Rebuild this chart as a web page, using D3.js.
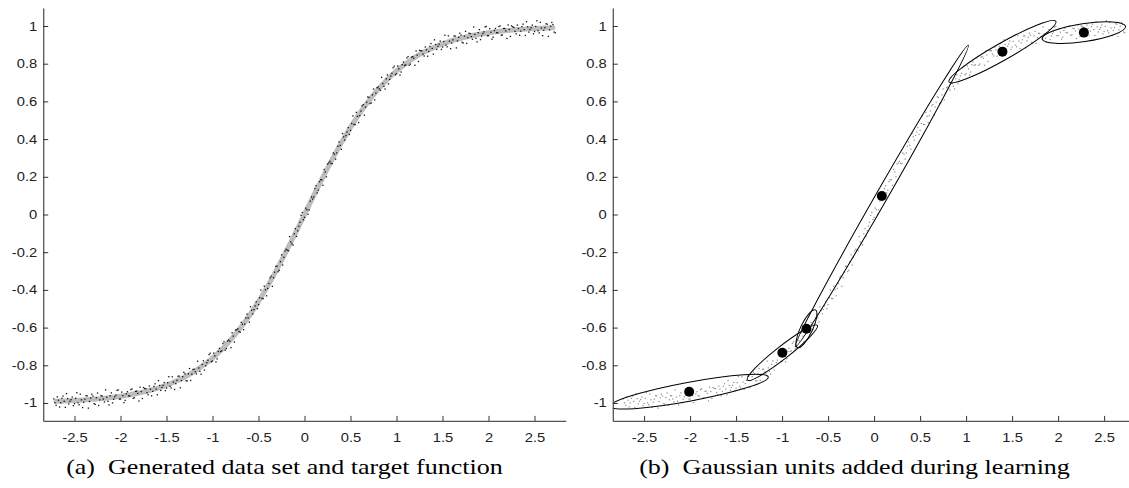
<!DOCTYPE html>
<html lang="en">
<head>
<meta charset="UTF-8">
<title>Gaussian units added during learning</title>
<script src="https://cdn.jsdelivr.net/npm/d3@7"></script>
<style>
  body { margin: 0; background: #fff; }
  .tick text { font-family: "Liberation Sans", Arial, sans-serif; font-size: 12.5px; fill: #222; transform-box: fill-box; }
  .yaxis .tick text { transform-origin: 100% 50%; transform: scaleX(1.18); }
  .xaxis .tick text { transform-origin: 50% 50%; transform: scaleX(1.18); }
  .domain { stroke: #555; stroke-width: 1.3px; }
  .tick line { stroke: #333; }
  .caption { font-family: "Liberation Serif", "Times New Roman", serif; font-size: 21px; white-space: pre; fill: #000; }
</style>
</head>
<body>
<svg id="chart" width="1129" height="488"></svg>
<script>
// tick values
const xTicks = [-2.5, -2, -1.5, -1, -0.5, 0, 0.5, 1, 1.5, 2, 2.5];
const yTicks = [-1, -0.8, -0.6, -0.4, -0.2, 0, 0.2, 0.4, 0.6, 0.8, 1];

// target function (gray line in panel a)
const targetX = [-2.7,-2.6,-2.5,-2.4,-2.3,-2.2,-2.1,-2.0,-1.9,-1.8,-1.7,-1.6,-1.5,-1.4,-1.3,-1.2,-1.1,-1.0,-0.9,-0.8,-0.7,-0.6,-0.5,-0.4,-0.3,-0.2,-0.1,
  0,0.1,0.2,0.3,0.4,0.5,0.6,0.7,0.8,0.9,1.0,1.1,1.2,1.3,1.4,1.5,1.6,1.7,1.8,1.9,2.0,2.1,2.2,2.3,2.4,2.5,2.6,2.7];
const targetY = [-0.991,-0.989,-0.987,-0.984,-0.980,-0.976,-0.971,-0.964,-0.956,-0.947,-0.935,-0.922,-0.905,-0.885,-0.862,-0.834,-0.800,-0.762,-0.716,-0.664,-0.604,-0.537,-0.462,-0.380,-0.291,-0.197,-0.100,
  0,0.100,0.197,0.291,0.380,0.462,0.537,0.604,0.664,0.716,0.762,0.800,0.834,0.862,0.885,0.905,0.922,0.935,0.947,0.956,0.964,0.971,0.976,0.980,0.984,0.987,0.989,0.991];

// generated (noisy) data set, first half
const samplesA = [
  [-2.725,-0.978],[-2.700,-1.012],[-2.675,-0.985],[-2.650,-0.999],[-2.625,-0.963],[-2.600,-1.023],[-2.575,-0.977],[-2.550,-0.991],
  [-2.525,-0.968],[-2.500,-1.003],[-2.475,-0.945],[-2.450,-1.009],[-2.425,-0.983],[-2.400,-0.996],[-2.375,-0.961],[-2.350,-1.027],
  [-2.325,-0.973],[-2.300,-0.963],[-2.275,-1.007],[-2.250,-0.947],[-2.225,-0.983],[-2.200,-0.963],[-2.175,-0.994],[-2.150,-0.969],
  [-2.125,-1.010],[-2.100,-0.946],[-2.075,-0.980],[-2.050,-0.958],[-2.025,-0.930],[-2.000,-0.979],[-1.975,-0.961],[-1.950,-0.986],
  [-1.925,-0.940],[-1.900,-0.963],[-1.875,-0.925],[-1.850,-0.972],[-1.825,-0.937],[-1.800,-0.989],[-1.775,-0.939],[-1.750,-0.918],
  [-1.725,-0.924],[-1.700,-0.956],[-1.675,-0.926],[-1.650,-0.938],[-1.625,-0.898],[-1.600,-0.956],[-1.575,-0.907],[-1.550,-0.917],
  [-1.525,-0.891],[-1.500,-0.921],[-1.475,-0.860],[-1.450,-0.920],[-1.425,-0.889],[-1.400,-0.897],[-1.375,-0.858],[-1.350,-0.919],
  [-1.325,-0.860],[-1.300,-0.845],[-1.275,-0.883],[-1.250,-0.817],[-1.225,-0.847],[-1.200,-0.821],[-1.175,-0.845],[-1.150,-0.814],
  [-1.125,-0.847],[-1.100,-0.776],[-1.075,-0.802],[-1.050,-0.773],[-1.025,-0.736],[-1.000,-0.777],[-0.975,-0.750],[-0.950,-0.766],
  [-0.925,-0.710],[-0.900,-0.723],[-0.875,-0.675],[-0.850,-0.711],[-0.825,-0.666],[-0.800,-0.706],[-0.775,-0.645],[-0.750,-0.612],
  [-0.725,-0.606],[-0.700,-0.625],[-0.675,-0.582],[-0.650,-0.581],[-0.625,-0.528],[-0.600,-0.571],[-0.575,-0.508],[-0.550,-0.504],
  [-0.525,-0.463],[-0.500,-0.478],[-0.475,-0.401],[-0.450,-0.446],[-0.425,-0.399],[-0.400,-0.392],[-0.375,-0.336],[-0.350,-0.381],
  [-0.325,-0.306],[-0.300,-0.274],[-0.275,-0.296],[-0.250,-0.214],[-0.225,-0.227],[-0.200,-0.184],[-0.175,-0.192],[-0.150,-0.145],
  [-0.125,-0.162],[-0.100,-0.075],[-0.075,-0.086],[-0.050,-0.041],[-0.025,0.011],[0.000,-0.015],[0.025,0.026],[0.050,0.024],
  [0.075,0.093],[0.100,0.093],[0.125,0.153],[0.150,0.129],[0.175,0.185],[0.200,0.155],[0.225,0.226],[0.250,0.268],
  [0.275,0.282],[0.300,0.270],[0.325,0.320],[0.350,0.327],[0.375,0.385],[0.400,0.346],[0.425,0.412],[0.450,0.419],
  [0.475,0.461],[0.500,0.446],[0.525,0.523],[0.550,0.477],[0.575,0.521],[0.600,0.525],[0.625,0.577],[0.650,0.527],
  [0.675,0.596],[0.700,0.621],[0.725,0.592],[0.750,0.666],[0.775,0.644],[0.800,0.677],[0.825,0.659],[0.850,0.695],
  [0.875,0.666],[0.900,0.741],[0.925,0.717],[0.950,0.749],[0.975,0.787],[1.000,0.747],[1.025,0.773],[1.050,0.756],
  [1.075,0.809],[1.100,0.794],[1.125,0.838],[1.150,0.798],[1.175,0.838],[1.200,0.792],[1.225,0.846],[1.250,0.871],
  [1.275,0.869],[1.300,0.841],[1.325,0.874],[1.350,0.865],[1.375,0.907],[1.400,0.851],[1.425,0.902],[1.450,0.893],
  [1.475,0.920],[1.500,0.889],[1.525,0.951],[1.550,0.890],[1.575,0.920],[1.600,0.910],[1.625,0.947],[1.650,0.884],
  [1.675,0.940],[1.700,0.952],[1.725,0.910],[1.750,0.972],[1.775,0.938],[1.800,0.960],[1.825,0.930],[1.850,0.956],
  [1.875,0.916],[1.900,0.981],[1.925,0.947],[1.950,0.969],[1.975,0.998],[2.000,0.949],[2.025,0.967],[2.050,0.941],
  [2.075,0.987],[2.100,0.964],[2.125,1.001],[2.150,0.953],[2.175,0.987],[2.200,0.934],[2.225,0.982],[2.250,1.001],
  [2.275,0.993],[2.300,0.959],[2.325,0.987],[2.350,0.973],[2.375,1.010],[2.400,0.950],[2.425,0.996],[2.450,0.982],
  [2.475,1.005],[2.500,0.971],[2.525,1.028],[2.550,0.964],[2.575,0.990],[2.600,0.977],[2.625,1.012],[2.650,0.945],
  [2.675,0.999],[2.700,1.008],[2.725,0.964]
];

// generated (noisy) data set, second half
const samplesB = [
  [-2.7125,-0.999],[-2.6875,-0.967],[-2.6625,-1.021],[-2.6375,-0.975],[-2.6125,-0.991],[-2.5875,-0.950],[-2.5625,-1.005],[-2.5375,-0.982],
  [-2.5125,-1.014],[-2.4875,-0.975],[-2.4625,-0.999],[-2.4375,-0.953],[-2.4125,-1.024],[-2.3875,-0.980],[-2.3625,-0.962],[-2.3375,-0.992],
  [-2.3125,-0.953],[-2.2875,-1.003],[-2.2625,-0.972],[-2.2375,-1.013],[-2.2125,-0.960],[-2.1875,-0.979],[-2.1625,-0.930],[-2.1375,-0.991],
  [-2.1125,-0.961],[-2.0875,-0.999],[-2.0625,-0.967],[-2.0375,-0.933],[-2.0125,-0.979],[-1.9875,-0.942],[-1.9625,-0.998],[-1.9375,-0.951],
  [-1.9125,-0.962],[-1.8875,-0.929],[-1.8625,-0.975],[-1.8375,-0.938],[-1.8125,-0.949],[-1.7875,-0.916],[-1.7625,-0.976],[-1.7375,-0.923],
  [-1.7125,-0.945],[-1.6875,-0.910],[-1.6625,-0.962],[-1.6375,-0.912],[-1.6125,-0.926],[-1.5875,-0.881],[-1.5625,-0.933],[-1.5375,-0.906],
  [-1.5125,-0.934],[-1.4875,-0.892],[-1.4625,-0.911],[-1.4375,-0.861],[-1.4125,-0.928],[-1.3875,-0.880],[-1.3625,-0.857],[-1.3375,-0.881],
  [-1.3125,-0.837],[-1.2875,-0.882],[-1.2625,-0.845],[-1.2375,-0.880],[-1.2125,-0.822],[-1.1875,-0.834],[-1.1625,-0.778],[-1.1375,-0.832],
  [-1.1125,-0.795],[-1.0875,-0.825],[-1.0625,-0.786],[-1.0375,-0.743],[-1.0125,-0.781],[-0.9875,-0.735],[-0.9625,-0.782],[-0.9375,-0.726],
  [-0.9125,-0.727],[-0.8875,-0.684],[-0.8625,-0.720],[-0.8375,-0.671],[-0.8125,-0.672],[-0.7875,-0.627],[-0.7625,-0.676],[-0.7375,-0.611],
  [-0.7125,-0.620],[-0.6875,-0.572],[-0.6625,-0.611],[-0.6375,-0.548],[-0.6125,-0.548],[-0.5875,-0.489],[-0.5625,-0.527],[-0.5375,-0.485],
  [-0.5125,-0.499],[-0.4875,-0.441],[-0.4625,-0.445],[-0.4375,-0.380],[-0.4125,-0.431],[-0.3875,-0.366],[-0.3625,-0.327],[-0.3375,-0.335],
  [-0.3125,-0.275],[-0.2875,-0.303],[-0.2625,-0.250],[-0.2375,-0.268],[-0.2125,-0.193],[-0.1875,-0.189],[-0.1625,-0.117],[-0.1375,-0.155],
  [-0.1125,-0.102],[-0.0875,-0.116],[-0.0625,-0.062],[-0.0375,-0.004],[-0.0125,-0.027],[0.0125,0.034],[0.0375,0.001],[0.0625,0.071],
  [0.0875,0.082],[0.1125,0.138],[0.1375,0.115],[0.1625,0.174],[0.1875,0.184],[0.2125,0.239],[0.2375,0.200],[0.2625,0.274],
  [0.2875,0.272],[0.3125,0.327],[0.3375,0.294],[0.3625,0.362],[0.3875,0.367],[0.4125,0.430],[0.4375,0.395],[0.4625,0.438],
  [0.4875,0.425],[0.5125,0.483],[0.5375,0.478],[0.5625,0.542],[0.5875,0.488],[0.6125,0.549],[0.6375,0.583],[0.6625,0.570],
  [0.6875,0.624],[0.7125,0.589],[0.7375,0.635],[0.7625,0.608],[0.7875,0.673],[0.8125,0.667],[0.8375,0.728],[0.8625,0.680],
  [0.8875,0.720],[0.9125,0.693],[0.9375,0.735],[0.9625,0.779],[0.9875,0.742],[1.0125,0.788],[1.0375,0.740],[1.0625,0.795],
  [1.0875,0.791],[1.1125,0.831],[1.1375,0.792],[1.1625,0.835],[1.1875,0.829],[1.2125,0.868],[1.2375,0.812],[1.2625,0.869],
  [1.2875,0.851],[1.3125,0.889],[1.3375,0.840],[1.3625,0.892],[1.3875,0.881],[1.4125,0.927],[1.4375,0.876],[1.4625,0.904],
  [1.4875,0.876],[1.5125,0.918],[1.5375,0.899],[1.5625,0.948],[1.5875,0.880],[1.6125,0.927],[1.6375,0.947],[1.6625,0.921],
  [1.6875,0.962],[1.7125,0.914],[1.7375,0.947],[1.7625,0.908],[1.7875,0.962],[1.8125,0.944],[1.8375,0.995],[1.8625,0.935],
  [1.8875,0.965],[1.9125,0.928],[1.9375,0.960],[1.9625,0.995],[1.9875,0.949],[2.0125,0.986],[2.0375,0.930],[2.0625,0.976],
  [2.0875,0.965],[2.1125,0.997],[2.1375,0.951],[2.1625,0.987],[2.1875,0.974],[2.2125,1.006],[2.2375,0.945],[2.2625,0.996],
  [2.2875,0.972],[2.3125,1.005],[2.3375,0.951],[2.3625,0.997],[2.3875,0.981],[2.4125,1.023],[2.4375,0.968],[2.4625,0.992],
  [2.4875,0.959],[2.5125,0.998],[2.5375,0.975],[2.5625,1.020],[2.5875,0.949],[2.6125,0.992],[2.6375,1.010],[2.6625,0.980],
  [2.6875,1.019],[2.7125,0.968]
];

// gaussian units: centre, major half-axis (data units), minor half-axis (y data units)
const unitX = [-2.01, -0.997, -0.735, 0.084, 1.395, 2.28];
const unitY = [-0.94, -0.733, -0.606, 0.098, 0.864, 0.965];
const unitAxisX = [0.86, 0.38, 0.098, 0.94, 0.58, 0.453];
const unitAxisY = [0.078, 0.145, 0.10, 0.80, 0.161, 0.033];
const unitWidth = [0.050, 0.034, 0.032, 0.031, 0.045, 0.048];

const captions = ["(a)  Generated data set and target function", "(b)  Gaussian units added during learning"];

const samples = samplesA.concat(samplesB);
const svg = d3.select("#chart");
const fmt = d => String(+d.toFixed(1));

function makePanel(id, xRange, captionX, caption) {
  const x = d3.scaleLinear().domain([-2.84, 2.84]).range(xRange);
  const y = d3.scaleLinear().domain([-1.095, 1.095]).range([420.9, 8.1]);
  const g = svg.append("g");

  // clip to the plot area
  svg.append("clipPath").attr("id", id)
    .append("rect")
    .attr("x", xRange[0]).attr("y", y.range()[1])
    .attr("width", xRange[1] - xRange[0]).attr("height", y.range()[0] - y.range()[1]);

  const plot = g.append("g").attr("clip-path", `url(#${id})`);

  g.append("g")
    .attr("class", "xaxis")
    .attr("transform", `translate(0,${y.range()[0]})`)
    .call(d3.axisBottom(x).tickValues(xTicks).tickSize(-5).tickSizeOuter(0).tickPadding(12).tickFormat(fmt));

  g.append("g")
    .attr("class", "yaxis")
    .attr("transform", `translate(${xRange[0]},0)`)
    .call(d3.axisLeft(y).tickValues(yTicks).tickSize(-5).tickSizeOuter(0).tickPadding(6).tickFormat(fmt));

  // the original figure is stretched sideways, so the caption is too
  svg.append("text")
    .attr("class", "caption")
    .attr("transform", `translate(${captionX},474) scale(1.24,1)`)
    .attr("text-anchor", "middle")
    .text(caption);

  return { x, y, plot };
}

// panel (a)
const a = makePanel("clipA", [43.2, 565.8], 284.5, captions[0]);
a.plot.append("path")
  .datum(d3.range(targetX.length))
  .attr("fill", "none")
  .attr("stroke", "#bdbdbd")
  .attr("stroke-width", 5)
  .attr("stroke-linecap", "round")
  .attr("d", d3.line().x(i => a.x(targetX[i])).y(i => a.y(targetY[i])).curve(d3.curveMonotoneX));

a.plot.selectAll(".pt")
  .data(samples)
  .enter().append("rect")
  .attr("x", d => a.x(d[0]) - 0.6)
  .attr("y", d => a.y(d[1]) - 0.6)
  .attr("width", 1.3).attr("height", 1.3)
  .attr("fill", "#111");

// panel (b)
const b = makePanel("clipB", [612.8, 1135.4], 854.5, captions[1]);
b.plot.selectAll(".pt")
  .data(samples)
  .enter().append("rect")
  .attr("x", d => b.x(d[0]) - 0.6)
  .attr("y", d => b.y(d[1]) - 0.6)
  .attr("width", 1.2).attr("height", 1.2)
  .attr("fill", "#8a8a8a");

unitX.forEach((ux, i) => {
  const cx = b.x(ux), cy = b.y(unitY[i]);
  const ax = b.x(ux + unitAxisX[i]) - cx;
  const ay = b.y(unitY[i] + unitAxisY[i]) - cy;
  const rx = Math.hypot(ax, ay);
  const ry = b.y(0) - b.y(unitWidth[i]);
  const angle = Math.atan2(ay, ax) * 180 / Math.PI;

  b.plot.append("ellipse")
    .attr("transform", `translate(${cx},${cy}) rotate(${angle})`)
    .attr("rx", rx).attr("ry", ry)
    .attr("fill", "none")
    .attr("stroke", "#000")
    .attr("stroke-width", 1);
});

b.plot.selectAll(".centre")
  .data(unitX)
  .enter().append("circle")
  .attr("cx", d => b.x(d))
  .attr("cy", (d, i) => b.y(unitY[i]))
  .attr("r", 5)
  .attr("fill", "#000");
</script>
</body>
</html>
